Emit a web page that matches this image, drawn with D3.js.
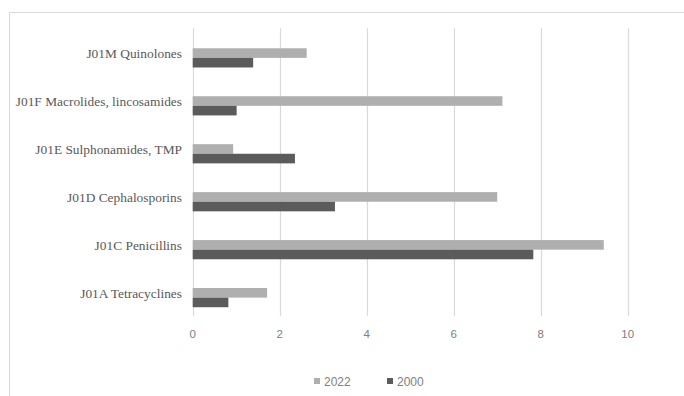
<!DOCTYPE html>
<html>
<head>
<meta charset="utf-8">
<script src="https://cdn.jsdelivr.net/npm/d3@7"></script>
<style>
  body { margin: 0; background: #fff; }
</style>
</head>
<body>
<div class="chart"></div>
<script>
// categories top to bottom, as in the picture
var categories = [
    "J01M Quinolones",
    "J01F Macrolides, lincosamides",
    "J01E Sulphonamides, TMP",
    "J01D Cephalosporins",
    "J01C Penicillins",
    "J01A Tetracyclines"
];
var series = ["2022", "2000"];
var values2022 = [2.62, 7.12, 0.93, 7.0, 9.45, 1.71];
var values2000 = [1.39, 1.01, 2.35, 3.27, 7.83, 0.82];
var xTicks = [0, 2, 4, 6, 8, 10];

var colors = { "2022": "#afafaf", "2000": "#5b5b5b" };

function funcCall() {
    var W = 684, H = 396;
    var svg = d3.select(".chart").append("svg")
        .attr("width", W).attr("height", H);

    // outer chart border (runs off the right and bottom edge)
    svg.append("rect")
        .attr("x", 9.5).attr("y", 12.5)
        .attr("width", 700).attr("height", 400)
        .attr("fill", "none").attr("stroke", "#d9d9d9");

    var top = 28.3, bottom = 316;
    var x = d3.scaleLinear().domain([0, 10]).range([192.7, 627.7]);
    var y = d3.scaleBand().domain(categories).range([top, bottom]);

    // gridlines
    svg.append("g").selectAll("line")
        .data(xTicks)
        .enter().append("line")
        .attr("x1", function (d) { return Math.round(x(d)) + 0.5; })
        .attr("x2", function (d) { return Math.round(x(d)) + 0.5; })
        .attr("y1", top).attr("y2", bottom)
        .attr("stroke", "#d9d9d9").attr("stroke-width", 1.2);

    // tick labels
    svg.append("g").selectAll("text")
        .data(xTicks)
        .enter().append("text")
        .text(function (d) { return d; })
        .attr("x", function (d) { return x(d); })
        .attr("y", 337.5)
        .attr("text-anchor", "middle")
        .attr("font-family", "Liberation Sans, sans-serif")
        .attr("font-size", 11.5)
        .attr("fill", "#808080");

    // bars, grouped by category
    var rows = categories.map(function (c, i) {
        return { cat: c, vals: [values2022[i], values2000[i]] };
    });
    var inner = d3.scaleBand().domain(series).range([0, 19.2]);

    var groups = svg.append("g").selectAll("g")
        .data(rows)
        .enter().append("g")
        .attr("transform", function (d) {
            return "translate(0," + (y(d.cat) + y.bandwidth() / 2 - 4) + ")";
        });

    groups.selectAll("rect")
        .data(function (d) {
            return series.map(function (s, j) { return { s: s, v: d.vals[j] }; });
        })
        .enter().append("rect")
        .attr("x", x(0))
        .attr("y", function (d) { return inner(d.s); })
        .attr("width", function (d) { return x(d.v) - x(0); })
        .attr("height", inner.bandwidth())
        .attr("fill", function (d) { return colors[d.s]; });

    // category labels
    svg.append("g").selectAll("text")
        .data(categories)
        .enter().append("text")
        .text(function (d) { return d; })
        .attr("x", 182)
        .attr("y", function (d) { return y(d) + y.bandwidth() / 2 + 5.7; })
        .attr("text-anchor", "end")
        .attr("font-family", "Liberation Serif, serif")
        .attr("font-size", 13.4)
        .attr("fill", "#595959");

    // legend
    var legend = svg.append("g").selectAll("g")
        .data(series)
        .enter().append("g")
        .attr("transform", function (d, i) { return "translate(" + (314 + i * 73) + ",0)"; });
    legend.append("rect")
        .attr("x", 0).attr("y", 378)
        .attr("width", 6).attr("height", 6)
        .attr("fill", function (d) { return colors[d]; });
    legend.append("text")
        .text(function (d) { return d; })
        .attr("x", 10).attr("y", 385.5)
        .attr("font-family", "Liberation Sans, sans-serif")
        .attr("font-size", 12)
        .attr("fill", "#808080");
}
funcCall();
</script>
</body>
</html>
